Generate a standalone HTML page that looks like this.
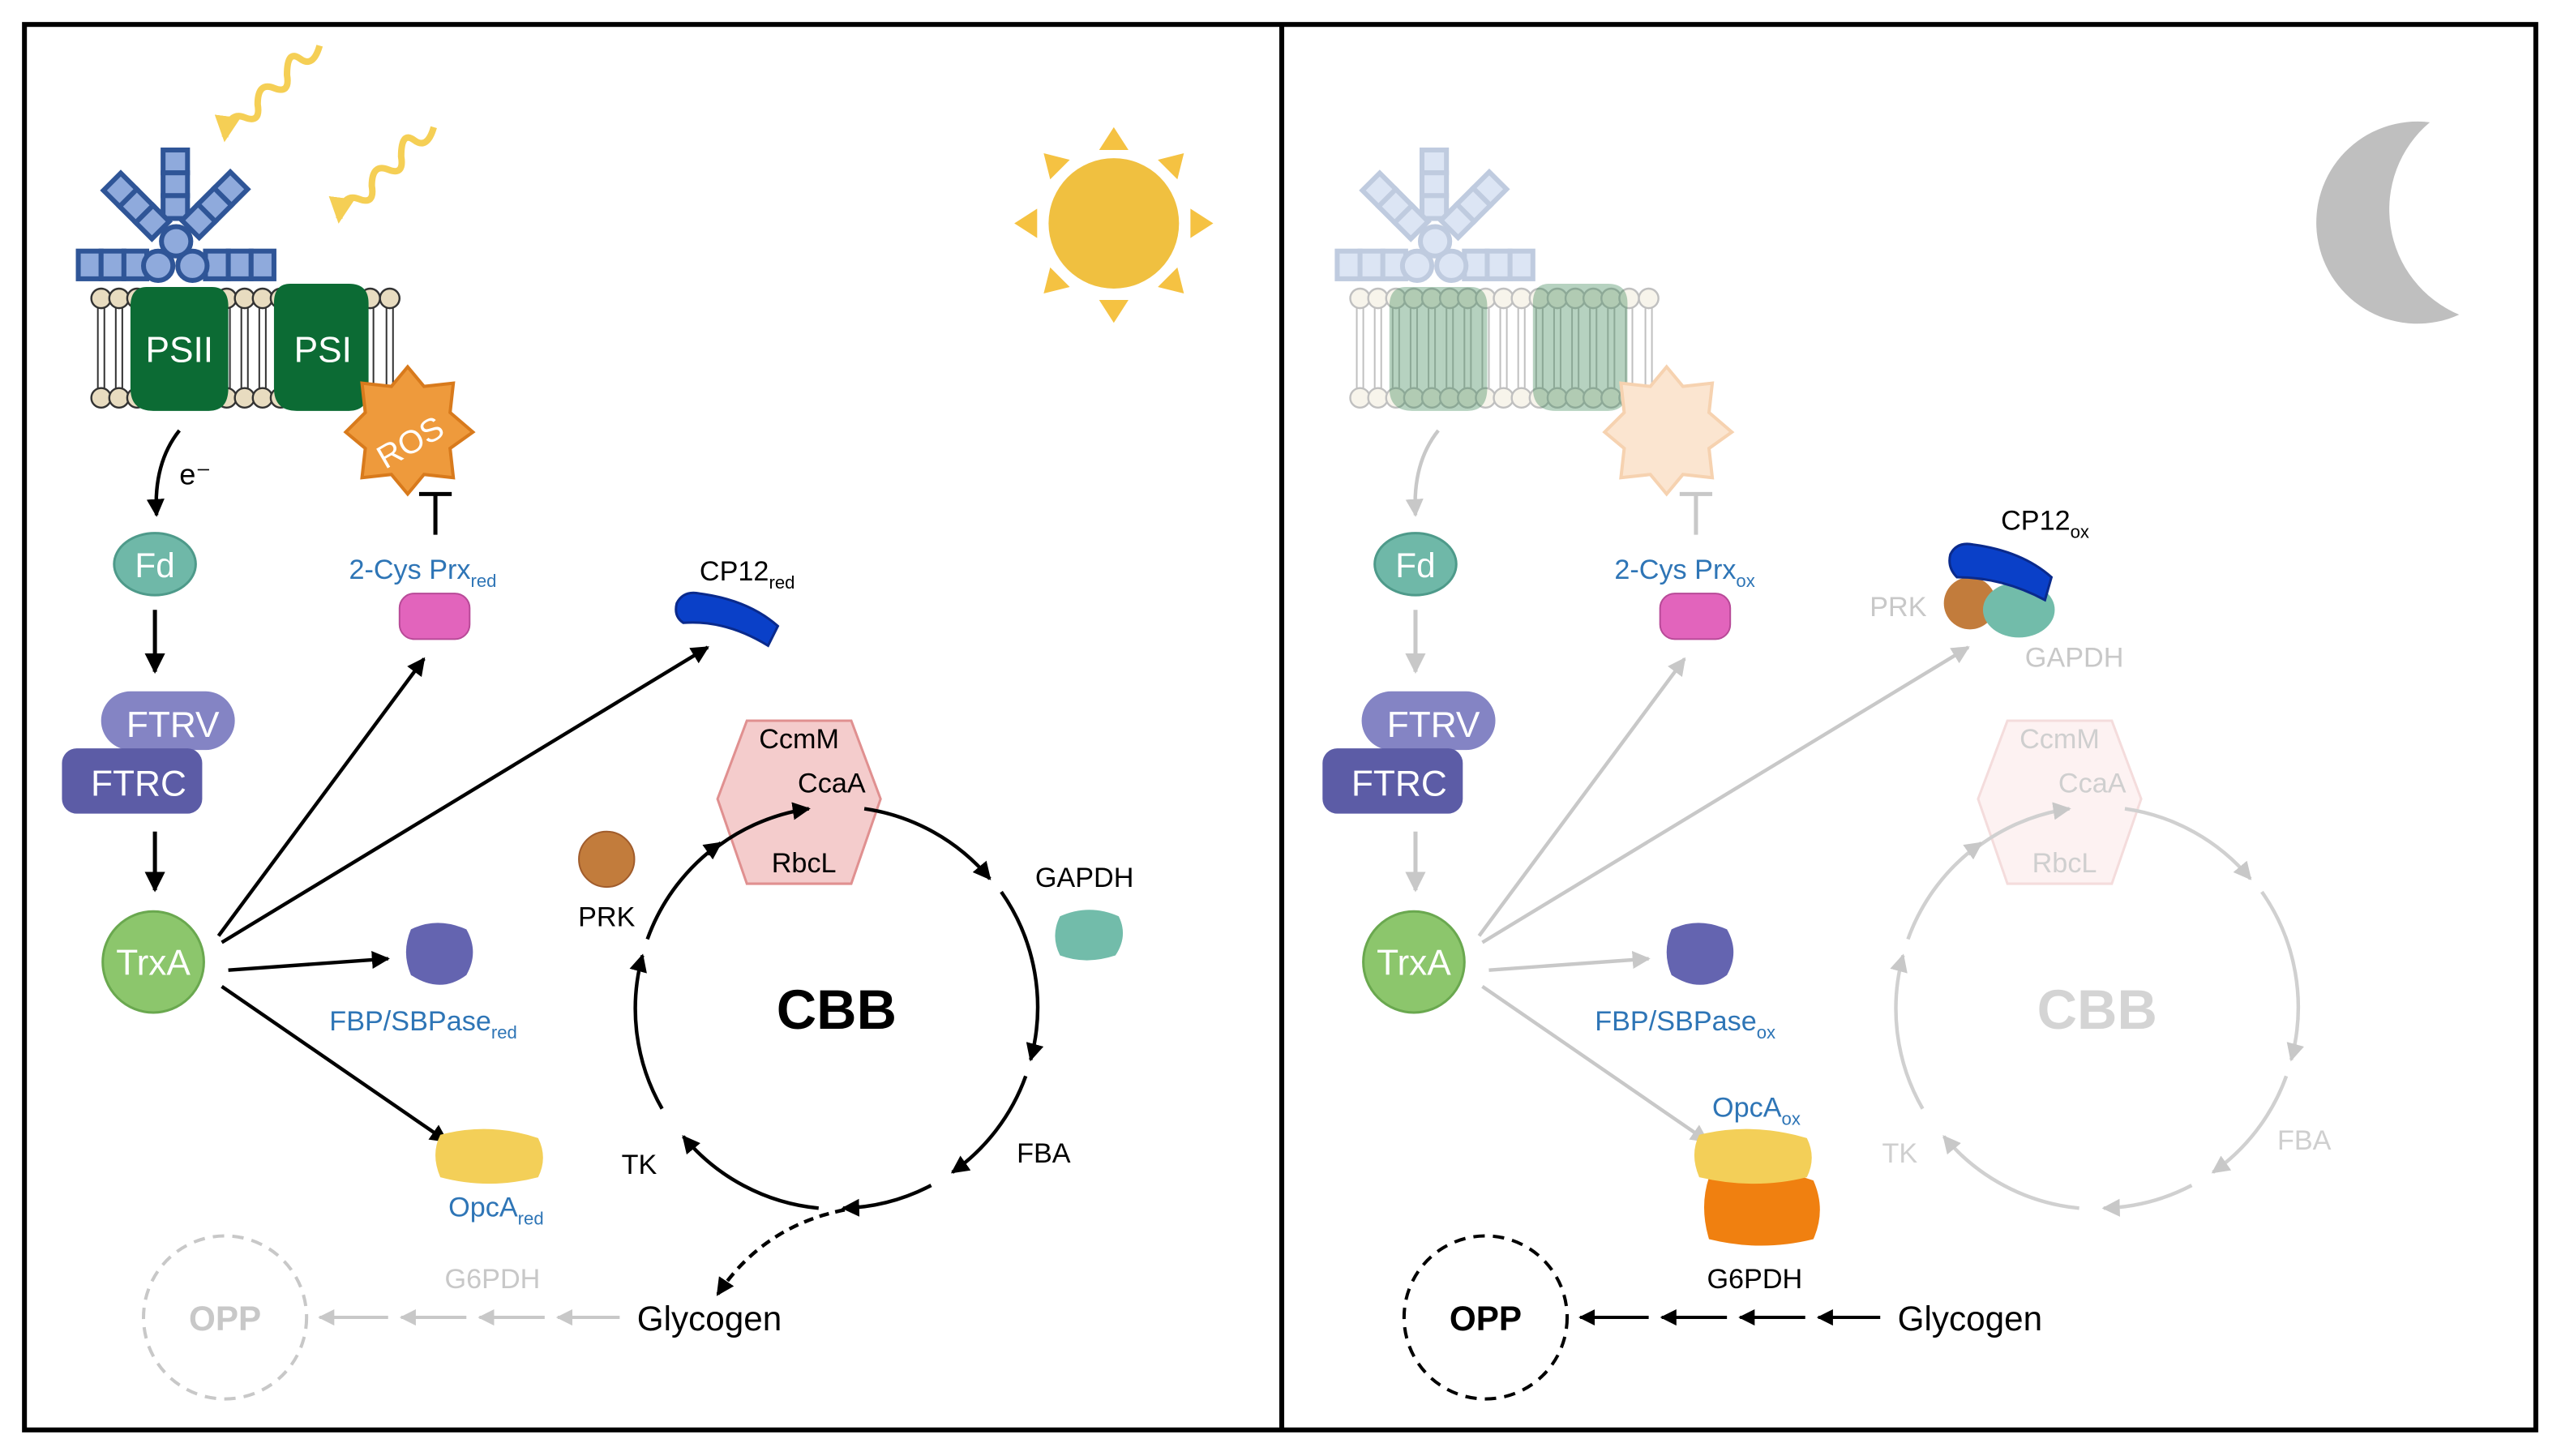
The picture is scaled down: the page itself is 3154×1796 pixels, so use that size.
<!DOCTYPE html>
<html><head><meta charset="utf-8"><style>html,body{margin:0;padding:0;background:#fff}svg{display:block}text{font-family:"Liberation Sans",Arial,sans-serif}</style></head>
<body>
<svg width="3154" height="1796" viewBox="0 0 1568 893" preserveAspectRatio="none" xmlns="http://www.w3.org/2000/svg">
<defs>
<marker id="ab" viewBox="0 0 10 10" refX="9" refY="5" markerWidth="5" markerHeight="5" orient="auto"><path d="M0 0L10 5L0 10z" fill="#000"/></marker>
<marker id="ag" viewBox="0 0 10 10" refX="9" refY="5" markerWidth="5" markerHeight="5" orient="auto"><path d="M0 0L10 5L0 10z" fill="#c8c8c8"/></marker>
<marker id="ay" viewBox="0 0 10 10" refX="8" refY="5" markerWidth="4" markerHeight="4" orient="auto"><path d="M0 0L10 5L0 10z" fill="#f5cf55"/></marker>
<g id="pbs">
 <g fill="#8faadc" stroke="#2f5597" stroke-width="3">
  <rect x="100" y="92" width="15" height="14"/><rect x="100" y="106" width="15" height="14"/><rect x="100" y="120" width="15" height="14"/>
  <g transform="rotate(-45 108 150)"><rect x="100" y="95" width="15" height="14"/><rect x="100" y="109" width="15" height="14"/><rect x="100" y="123" width="15" height="14"/></g>
  <g transform="rotate(45 108 150)"><rect x="100" y="95" width="15" height="14"/><rect x="100" y="109" width="15" height="14"/><rect x="100" y="123" width="15" height="14"/></g>
  <rect x="48" y="154" width="14" height="17"/><rect x="62" y="154" width="14" height="17"/><rect x="76" y="154" width="14" height="17"/>
  <rect x="126" y="154" width="14" height="17"/><rect x="140" y="154" width="14" height="17"/><rect x="154" y="154" width="14" height="17"/>
  <circle cx="108" cy="148" r="9"/><circle cx="97" cy="163" r="9"/><circle cx="118" cy="163" r="9"/>
 </g>
</g>
<g id="mem">
 <g fill="#e8dcc0" stroke="#333" stroke-width="1.2">
  <circle cx="62" cy="183" r="6"/><circle cx="73" cy="183" r="6"/><circle cx="84" cy="183" r="6"/><circle cx="95" cy="183" r="6"/><circle cx="106" cy="183" r="6"/><circle cx="117" cy="183" r="6"/><circle cx="128" cy="183" r="6"/><circle cx="139" cy="183" r="6"/><circle cx="150" cy="183" r="6"/><circle cx="161" cy="183" r="6"/><circle cx="172" cy="183" r="6"/><circle cx="183" cy="183" r="6"/><circle cx="194" cy="183" r="6"/><circle cx="205" cy="183" r="6"/><circle cx="216" cy="183" r="6"/><circle cx="227" cy="183" r="6"/><circle cx="239" cy="183" r="6"/>
  <circle cx="62" cy="244" r="6"/><circle cx="73" cy="244" r="6"/><circle cx="84" cy="244" r="6"/><circle cx="95" cy="244" r="6"/><circle cx="106" cy="244" r="6"/><circle cx="117" cy="244" r="6"/><circle cx="128" cy="244" r="6"/><circle cx="139" cy="244" r="6"/><circle cx="150" cy="244" r="6"/><circle cx="161" cy="244" r="6"/><circle cx="172" cy="244" r="6"/><circle cx="183" cy="244" r="6"/><circle cx="194" cy="244" r="6"/><circle cx="205" cy="244" r="6"/><circle cx="216" cy="244" r="6"/><circle cx="227" cy="244" r="6"/><circle cx="239" cy="244" r="6"/>
 </g>
 <path d="M60 189v49M64 189v49M71 189v49M75 189v49M82 189v49M86 189v49M93 189v49M97 189v49M104 189v49M108 189v49M115 189v49M119 189v49M126 189v49M130 189v49M137 189v49M141 189v49M148 189v49M152 189v49M159 189v49M163 189v49M170 189v49M174 189v49M181 189v49M185 189v49M192 189v49M196 189v49M203 189v49M207 189v49M214 189v49M218 189v49M225 189v49M229 189v49M237 189v49M241 189v49" stroke="#333" stroke-width="1" fill="none"/>
</g>
</defs>
<rect x="15" y="15" width="1540" height="862" fill="#fff" stroke="#000" stroke-width="3"/>
<line x1="786" y1="15" x2="786" y2="877" stroke="#000" stroke-width="3"/>

<!-- LEFT -->
<path d="M196 28q-4 14-12 8t-8 10q2 12-8 8t-10 10q2 12-8 8t-12 12" fill="none" stroke="#f5cf55" stroke-width="4" marker-end="url(#ay)"/>
<path d="M266 78q-4 14-12 8t-8 10q2 12-8 8t-10 10q2 12-8 8t-12 12" fill="none" stroke="#f5cf55" stroke-width="4" marker-end="url(#ay)"/>
<use href="#mem"/>
<use href="#pbs"/>
<path d="M90 176q-10 0-10 12v50q0 14 14 14h34q12 0 12-14v-50q0-12-10-12z" fill="#0c6b34"/>
<path d="M178 174q-10 0-10 12v52q0 14 14 14h32q12 0 12-14v-52q0-12-12-12z" fill="#0c6b34"/>
<text x="110" y="222" font-size="22" fill="#fff" text-anchor="middle">PSII</text>
<text x="198" y="222" font-size="22" fill="#fff" text-anchor="middle">PSI</text>
<path d="M250 225l10 12 18-2-2 18 14 12-14 10 2 18-18-2-10 12-10-12-18 2 2-18-12-10 12-12-2-18 18 2z" fill="#ee9a3c" stroke="#d87a1c" stroke-width="2"/>
<text x="252" y="278" font-size="20" fill="#fff" text-anchor="middle" transform="rotate(-30 252 272)">ROS</text>
<path d="M267 328v-25M257 303h20" stroke="#000" stroke-width="2.5"/>
<path d="M110 264q-16 20-14 52" fill="none" stroke="#000" stroke-width="2.2" marker-end="url(#ab)"/>
<text x="110" y="297" font-size="18">e⁻</text>
<ellipse cx="95" cy="346" rx="25" ry="19" fill="#6fb8a8" stroke="#4e9a8a" stroke-width="1.5"/>
<text x="95" y="354" font-size="21" fill="#fff" text-anchor="middle">Fd</text>
<path d="M95 374v38" stroke="#000" stroke-width="2.5" marker-end="url(#ab)"/>
<rect x="62" y="424" width="82" height="36" rx="18" fill="#8484c4"/>
<rect x="38" y="459" width="86" height="40" rx="9" fill="#5c5ca6"/>
<text x="106" y="452" font-size="22" fill="#fff" text-anchor="middle">FTRV</text>
<text x="85" y="488" font-size="22" fill="#fff" text-anchor="middle">FTRC</text>
<path d="M95 510v36" stroke="#000" stroke-width="2.5" marker-end="url(#ab)"/>
<circle cx="94" cy="590" r="31" fill="#8cc66c" stroke="#6aa84f" stroke-width="1.5"/>
<text x="94" y="598" font-size="22" fill="#fff" text-anchor="middle">TrxA</text>
<g stroke="#000" stroke-width="2.2" fill="none" marker-end="url(#ab)">
<path d="M134 574L260 404"/><path d="M136 578L434 397"/><path d="M140 595L238 588"/><path d="M136 605L274 700"/>
</g>
<text x="214" y="355" font-size="17" fill="#2e75b6">2-Cys Prx<tspan font-size="11" dy="5">red</tspan></text>
<rect x="245" y="364" width="43" height="28" rx="9" fill="#e264bc" stroke="#b84a98" stroke-width="1"/>
<text x="429" y="356" font-size="17">CP12<tspan font-size="11" dy="5">red</tspan></text>
<path d="M415 370q4-8 14-6q30 4 48 20l-6 12q-26-16-52-14q-6-4-4-12z" fill="#0a40c8" stroke="#0a2a8c" stroke-width="1.5"/>
<path d="M458 442h64l18 48-18 52h-64l-18-52z" fill="#f4cccc" stroke="#e09090" stroke-width="1.5"/>
<text x="490" y="459" font-size="17" text-anchor="middle">CcmM</text>
<text x="510" y="486" font-size="17" text-anchor="middle">CcaA</text>
<text x="493" y="535" font-size="17" text-anchor="middle">RbcL</text>
<g stroke="#000" fill="none" stroke-width="2.2">
<path d="M434 524A123 123 0 0 1 496 496" marker-end="url(#ab)"/><path d="M530 496A123 123 0 0 1 607 539" marker-end="url(#ab)"/><path d="M614 547A123 123 0 0 1 632 650" marker-end="url(#ab)"/><path d="M629 660A123 123 0 0 1 584 719" marker-end="url(#ab)"/><path d="M571 727A123 123 0 0 1 517 741" marker-end="url(#ab)"/><path d="M502 741A123 123 0 0 1 419 697" marker-end="url(#ab)"/><path d="M406 680A123 123 0 0 1 394 586" marker-end="url(#ab)"/><path d="M397 576A123 123 0 0 1 442 517" marker-end="url(#ab)"/>
</g>
<text x="513" y="631" font-size="34" font-weight="bold" text-anchor="middle">CBB</text>
<circle cx="372" cy="527" r="17" fill="#c27c3c" stroke="#a05c2c" stroke-width="1"/>
<text x="372" y="568" font-size="17" text-anchor="middle">PRK</text>
<text x="665" y="544" font-size="17" text-anchor="middle">GAPDH</text>
<path d="M650 562q18-8 36 0q6 12-2 24q-18 6-34 0q-6-12 0-24z" fill="#72bcaa"/>
<text x="640" y="713" font-size="17" text-anchor="middle">FBA</text>
<text x="392" y="720" font-size="17" text-anchor="middle">TK</text>
<path d="M252 570q16-8 34 0q8 14 0 28q-16 12-34 0q-6-14 0-28z" fill="#6464b0"/>
<text x="202" y="632" font-size="17" fill="#2e75b6">FBP/SBPase<tspan font-size="11" dy="5">red</tspan></text>
<path d="M270 696q30-8 60 2q6 12 0 24q-30 8-60 0q-6-14 0-26z" fill="#f3cf58"/>
<text x="275" y="746" font-size="17" fill="#2e75b6">OpcA<tspan font-size="11" dy="5">red</tspan></text>
<path d="M518 742q-50 10-78 52" fill="none" stroke="#000" stroke-width="2.2" stroke-dasharray="6 4" marker-end="url(#ab)"/>
<text x="435" y="816" font-size="21" text-anchor="middle">Glycogen</text>
<circle cx="138" cy="808" r="50" fill="none" stroke="#c8c8c8" stroke-width="2" stroke-dasharray="7 5"/>
<text x="138" y="816" font-size="21" font-weight="bold" fill="#c8c8c8" text-anchor="middle">OPP</text>
<text x="302" y="790" font-size="17" fill="#c8c8c8" text-anchor="middle">G6PDH</text>
<g stroke="#c8c8c8" stroke-width="2" marker-end="url(#ag)"><path d="M380 808h-38"/><path d="M334 808h-40"/><path d="M286 808h-40"/><path d="M238 808h-42"/></g>
<g fill="#f5c242"><path d="M683 78l9 14h-18zM683 198l9-14h-18zM622 137l14-9v18zM744 137l-14-9v18zM640 94l16 4-12 12zM726 94l-16 4 12 12zM640 180l16-4-12-12zM726 180l-16-4 12-12z"/></g>
<circle cx="683" cy="137" r="40" fill="#f0c040"/>

<!-- RIGHT -->
<g opacity="0.3" transform="translate(772,0)"><use href="#pbs"/><use href="#mem"/></g>
<g opacity="0.35">
<path d="M862 176q-10 0-10 12v50q0 14 14 14h34q12 0 12-14v-50q0-12-10-12z" fill="#2e7d4a"/>
<path d="M950 174q-10 0-10 12v52q0 14 14 14h32q12 0 12-14v-52q0-12-12-12z" fill="#2e7d4a"/>
</g>
<path d="M1022 225l10 12 18-2-2 18 14 12-14 10 2 18-18-2-10 12-10-12-18 2 2-18-12-10 12-12-2-18 18 2z" fill="#fbe5d0" stroke="#f6d2b0" stroke-width="2"/>
<path d="M1040 328v-25M1030 303h20" stroke="#c8c8c8" stroke-width="2.5"/>
<path d="M882 264q-16 20-14 52" fill="none" stroke="#c8c8c8" stroke-width="2.2" marker-end="url(#ag)"/>
<path d="M1490 75a62 62 0 1 0 18 118a70 70 0 0 1 -18 -118z" fill="#bfbfbf"/>
<ellipse cx="868" cy="346" rx="25" ry="19" fill="#6fb8a8" stroke="#4e9a8a" stroke-width="1.5"/>
<text x="868" y="354" font-size="21" fill="#fff" text-anchor="middle">Fd</text>
<path d="M868 374v38" stroke="#c8c8c8" stroke-width="2.5" marker-end="url(#ag)"/>
<rect x="835" y="424" width="82" height="36" rx="18" fill="#8484c4"/>
<rect x="811" y="459" width="86" height="40" rx="9" fill="#5c5ca6"/>
<text x="879" y="452" font-size="22" fill="#fff" text-anchor="middle">FTRV</text>
<text x="858" y="488" font-size="22" fill="#fff" text-anchor="middle">FTRC</text>
<path d="M868 510v36" stroke="#c8c8c8" stroke-width="2.5" marker-end="url(#ag)"/>
<circle cx="867" cy="590" r="31" fill="#8cc66c" stroke="#6aa84f" stroke-width="1.5"/>
<text x="867" y="598" font-size="22" fill="#fff" text-anchor="middle">TrxA</text>
<g stroke="#c8c8c8" stroke-width="2.2" fill="none" marker-end="url(#ag)">
<path d="M907 574L1033 404"/><path d="M909 578L1207 397"/><path d="M913 595L1011 588"/><path d="M909 605L1047 700"/>
</g>
<text x="990" y="355" font-size="17" fill="#2e75b6">2-Cys Prx<tspan font-size="11" dy="5">ox</tspan></text>
<rect x="1018" y="364" width="43" height="28" rx="9" fill="#e264bc" stroke="#b84a98" stroke-width="1"/>
<text x="1227" y="325" font-size="17">CP12<tspan font-size="11" dy="5">ox</tspan></text>
<circle cx="1208" cy="370" r="16" fill="#c27c3c"/>
<ellipse cx="1238" cy="374" rx="22" ry="17" fill="#72bcaa"/>
<path d="M1196 340q4-8 14-6q30 4 48 20l-4 14q-26-14-54-14q-6-6-4-14z" fill="#0a40c8" stroke="#0a2a8c" stroke-width="1.5"/>
<text x="1164" y="378" font-size="17" fill="#c8c8c8" text-anchor="middle">PRK</text>
<text x="1272" y="409" font-size="17" fill="#c8c8c8" text-anchor="middle">GAPDH</text>
<path d="M1231 442h64l18 48-18 52h-64l-18-52z" fill="#fdf2f2" stroke="#f4dcdc" stroke-width="1.5"/>
<g fill="#cfcfcf" font-size="17" text-anchor="middle"><text x="1263" y="459">CcmM</text><text x="1283" y="486">CcaA</text><text x="1266" y="535">RbcL</text></g>
<g transform="translate(773,0)" stroke="#d0d0d0" fill="none" stroke-width="2.2">
<path d="M434 524A123 123 0 0 1 496 496" marker-end="url(#ag)"/><path d="M530 496A123 123 0 0 1 607 539" marker-end="url(#ag)"/><path d="M614 547A123 123 0 0 1 632 650" marker-end="url(#ag)"/><path d="M629 660A123 123 0 0 1 584 719" marker-end="url(#ag)"/><path d="M571 727A123 123 0 0 1 517 741" marker-end="url(#ag)"/><path d="M502 741A123 123 0 0 1 419 697" marker-end="url(#ag)"/><path d="M406 680A123 123 0 0 1 394 586" marker-end="url(#ag)"/><path d="M397 576A123 123 0 0 1 442 517" marker-end="url(#ag)"/>
</g>
<text x="1286" y="631" font-size="34" font-weight="bold" fill="#d4d4d4" text-anchor="middle">CBB</text>
<text x="1413" y="705" font-size="17" fill="#cfcfcf" text-anchor="middle">FBA</text>
<text x="1165" y="713" font-size="17" fill="#cfcfcf" text-anchor="middle">TK</text>
<path d="M1025 570q16-8 34 0q8 14 0 28q-16 12-34 0q-6-14 0-28z" fill="#6464b0"/>
<text x="978" y="632" font-size="17" fill="#2e75b6">FBP/SBPase<tspan font-size="11" dy="5">ox</tspan></text>
<text x="1050" y="685" font-size="17" fill="#2e75b6">OpcA<tspan font-size="11" dy="5">ox</tspan></text>
<path d="M1048 722q30-10 64 2q8 18 0 36q-32 8-64 0q-6-20 0-38z" fill="#f08010"/>
<path d="M1042 696q32-8 66 2q6 12 0 24q-32 8-66 0q-6-14 0-26z" fill="#f3cf58"/>
<text x="1076" y="790" font-size="17" text-anchor="middle">G6PDH</text>
<circle cx="911" cy="808" r="50" fill="none" stroke="#000" stroke-width="2" stroke-dasharray="7 5"/>
<text x="911" y="816" font-size="21" font-weight="bold" text-anchor="middle">OPP</text>
<text x="1208" y="816" font-size="21" text-anchor="middle">Glycogen</text>
<g stroke="#000" stroke-width="2" marker-end="url(#ab)"><path d="M1153 808h-38"/><path d="M1107 808h-40"/><path d="M1059 808h-40"/><path d="M1011 808h-42"/></g>
</svg>
</body></html>
